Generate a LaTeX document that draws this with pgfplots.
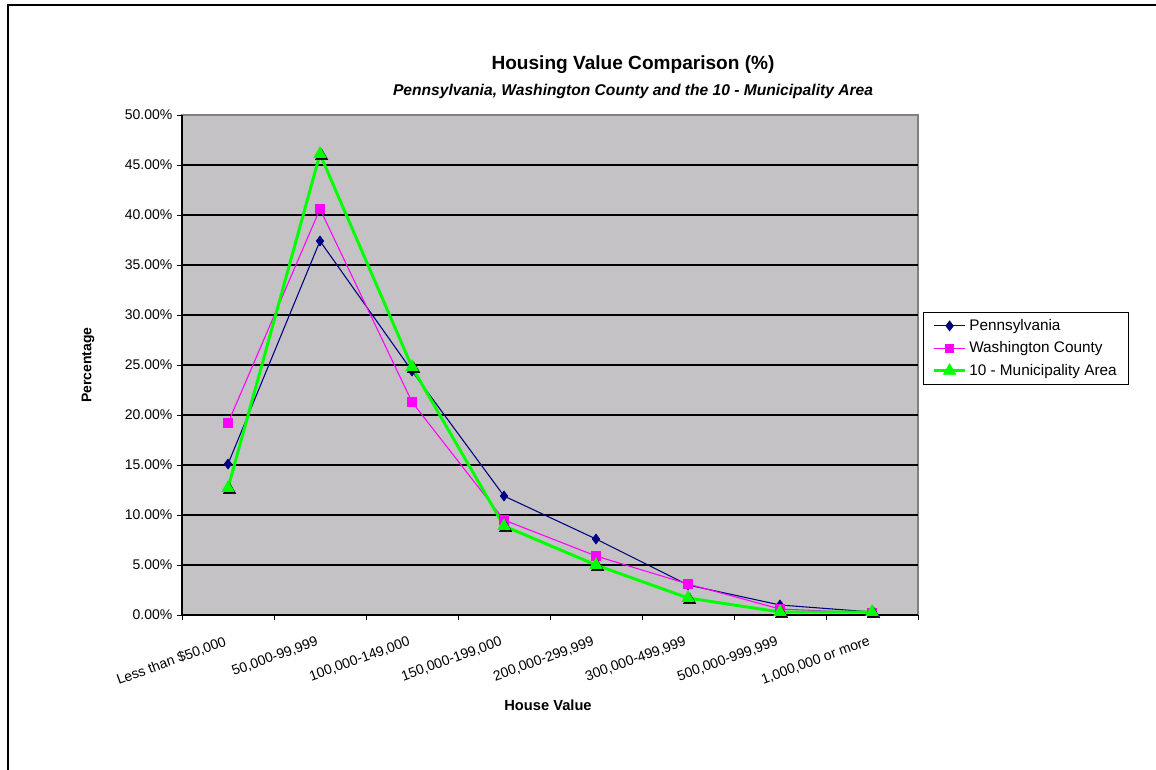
\documentclass[border=0pt]{standalone}
\usepackage{pgfplots}
\pgfplotsset{compat=1.18}
\usepackage{fontspec}
\setmainfont{Liberation Sans}

\definecolor{plotgray}{RGB}{196,194,197}
\definecolor{pennblue}{RGB}{0,0,128}
\definecolor{washpink}{RGB}{255,0,255}
\definecolor{munigreen}{RGB}{0,255,0}

\begin{document}
\begin{tikzpicture}
% page = 1156 x 769 px, 1 px = 0.75pt
\useasboundingbox[fill=white] (0,0) rectangle (867pt,576.75pt);
\draw[line width=1.5pt] (6pt,-20pt) -- (6pt,573pt) -- (900pt,573pt);

\node[font=\bfseries\fontsize{14.3}{16}\selectfont] at (474.75pt,528.5pt) {Housing Value Comparison (\%)};
\node[font=\bfseries\itshape\fontsize{11.7}{13}\selectfont] at (474.75pt,508pt) {Pennsylvania, Washington County and the 10 - Municipality Area};
\node[font=\bfseries\fontsize{10.5}{12}\selectfont, rotate=90] at (66pt,303pt) {Percentage};
\node[font=\bfseries\fontsize{11}{13}\selectfont] at (411pt,48pt) {House Value};

\begin{axis}[
    at={(136.5pt,115.5pt)}, anchor=south west,
    scale only axis,
    width=552pt, height=375pt,
    xmin=-0.5, xmax=7.5,
    ymin=0, ymax=50,
    axis lines=left,
    axis line style={-, black, line width=0.8pt},
    axis background/.style={fill=plotgray, draw=gray, line width=0.8pt},
    tick align=outside,
    major tick length=3.75pt,
    tick style={black, line width=0.7pt},
    tick label style={font=\fontsize{10.5}{12}\selectfont},
    % tick marks between the categories
    xtick={-0.5,0.5,...,7.5},
    xticklabels={},
    extra x ticks={0,1,2,3,4,5,6,7},
    extra x tick labels={{Less than \$50,000}, {50,000-99,999}, {100,000-149,000},
        {150,000-199,000}, {200,000-299,999}, {300,000-499,999}, {500,000-999,999},
        {1,000,000 or more}},
    extra x tick style={major tick length=0pt},
    xticklabel style={rotate=20, anchor=north east, xshift=-5pt, yshift=-10pt},
    ytick={0,5,...,50},
    yticklabels={0.00\%,5.00\%,10.00\%,15.00\%,20.00\%,25.00\%,30.00\%,35.00\%,40.00\%,45.00\%,50.00\%},
    extra y ticks={5,10,...,45},
    extra y tick labels={},
    extra y tick style={grid=major, major tick length=0pt},
    major grid style={black, line width=0.8pt},
    legend style={at={(1,0.5)}, anchor=west, xshift=3.75pt, yshift=12.5pt,
        draw=black, fill=white, font=\fontsize{11.5}{13}\selectfont,
        inner xsep=7pt, inner ysep=3.5pt, row sep=3pt},
    legend cell align=left,
    legend image code/.code={\draw[mark repeat=2,mark phase=2]
        plot coordinates {(0cm,0cm) (0.41cm,0cm) (0.82cm,0cm)};},
    clip=false,
]

% Pennsylvania
\addplot[pennblue, line width=0.8pt, mark=diamond*, mark size=3.5pt,
    mark options={fill=pennblue, draw=pennblue}]
    coordinates {(0,15.1) (1,37.4) (2,24.4) (3,11.9) (4,7.6) (5,3.0) (6,1.0) (7,0.3)};
\addlegendentry{Pennsylvania}

% Washington County
\addplot[washpink, line width=0.8pt, mark=square*, mark size=3.2pt,
    mark options={fill=washpink, draw=washpink}]
    coordinates {(0,19.2) (1,40.6) (2,21.3) (3,9.5) (4,5.9) (5,3.1) (6,0.6) (7,0.2)};
\addlegendentry{Washington County}

% shadow of the triangles
\addplot[draw=none, mark=triangle*, mark size=5.3pt, forget plot,
    mark options={fill=black, draw=black, xshift=1.2pt, yshift=-1.5pt}]
    coordinates {(0,12.7) (1,46.1) (2,24.8) (3,8.9) (4,5.0) (5,1.7) (6,0.3) (7,0.3)};

% 10 - Municipality Area
\addplot[munigreen, line width=2.2pt, mark=triangle*, mark size=5.3pt,
    mark options={fill=munigreen, draw=munigreen, line width=0.5pt}]
    coordinates {(0,12.7) (1,46.1) (2,24.8) (3,8.9) (4,5.0) (5,1.7) (6,0.3) (7,0.3)};
\addlegendentry{10 - Municipality Area}

\end{axis}
\end{tikzpicture}
\end{document}
